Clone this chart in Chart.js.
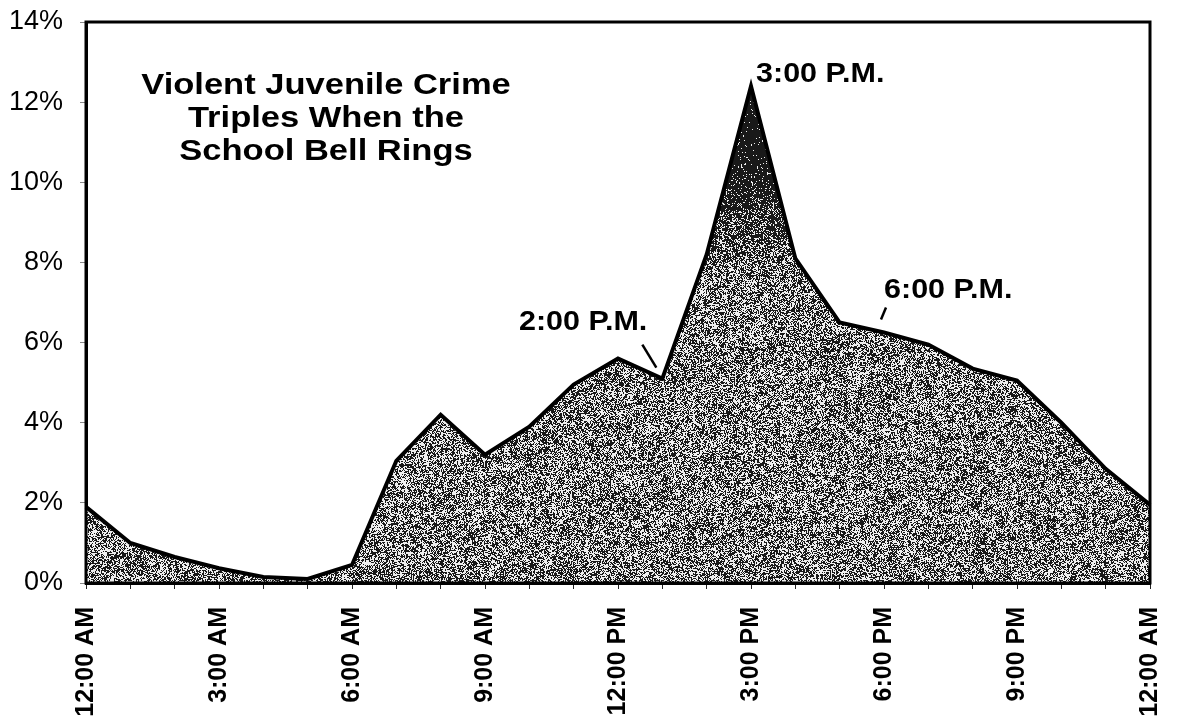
<!DOCTYPE html>
<html>
<head>
<meta charset="utf-8">
<script src="https://cdn.jsdelivr.net/npm/chart.js@4/dist/chart.umd.min.js"></script>
<style>
    html, body { margin: 0; padding: 0; background: #fff; }
    #crimeChart { display: block; }
</style>
</head>
<body>
<canvas id="crimeChart" width="1181" height="727"></canvas>
<script>
// Share of violent juvenile crime by hour of day
const hourLabels = [
    '12:00 AM', '1:00 AM', '2:00 AM', '3:00 AM', '4:00 AM', '5:00 AM',
    '6:00 AM', '7:00 AM', '8:00 AM', '9:00 AM', '10:00 AM', '11:00 AM',
    '12:00 PM', '1:00 PM', '2:00 PM', '3:00 PM', '4:00 PM', '5:00 PM',
    '6:00 PM', '7:00 PM', '8:00 PM', '9:00 PM', '10:00 PM', '11:00 PM',
    '12:00 AM'
];
const crimeShare = [
    1.9, 1.0, 0.65, 0.37, 0.15, 0.1,
    0.45, 3.05, 4.2, 3.2, 3.9, 4.95,
    5.6, 5.1, 8.2, 12.4, 8.1, 6.5,
    6.25, 5.95, 5.35, 5.05, 4.0, 2.85,
    1.95
];
const yTicks = [0, 2, 4, 6, 8, 10, 12, 14];
const titleLines = ['Violent Juvenile Crime', 'Triples When the', 'School Bell Rings'];
const calloutText = ['2:00 P.M.', '3:00 P.M.', '6:00 P.M.'];
const calloutHour = [13, 15, 18];

const FONT = '"Liberation Sans", Arial, Helvetica, sans-serif';

// cheap integer hash -> [0,1)
function hash(x, y) {
    let h = Math.imul(x, 374761393) + Math.imul(y, 668265263) | 0;
    h = Math.imul(h ^ (h >>> 13), 1274126177);
    h = h ^ (h >>> 16);
    return (h >>> 0) / 4294967296;
}

// grainy stipple fill, darker toward the top of the peak
let grainCache = null;
function grainPattern(chart) {
    if (grainCache) return grainCache;
    const w = chart.width, h = chart.height;
    const yScale = chart.scales.y;
    const off = document.createElement('canvas');
    off.width = w; off.height = h;
    const octx = off.getContext('2d');
    const img = octx.createImageData(w, h);
    for (let y = 0; y < h; y++) {
        const v = yScale.getValueForPixel(y);
        let t = Math.min(1, Math.max(0, (v - 7) / 4));
        t = t * t * (3 - 2 * t);
        const base = 0.52 + 0.44 * t;
        for (let x = 0; x < w; x++) {
            const blot = (hash(x >> 2, y >> 2) - 0.5) * 0.34 * (1 - t);
            const p = base + blot;
            const dark = hash(x, y + 7919) < p;
            const g = dark ? 25 : 238;
            const i = (y * w + x) * 4;
            img.data[i] = g; img.data[i + 1] = g; img.data[i + 2] = g; img.data[i + 3] = 255;
        }
    }
    octx.putImageData(img, 0, 0);
    grainCache = chart.ctx.createPattern(off, 'no-repeat');
    return grainCache;
}

function drawText(ctx, text, x, y, size, sx, align) {
    ctx.save();
    ctx.font = 'bold ' + size + 'px ' + FONT;
    ctx.textAlign = align;
    ctx.textBaseline = 'middle';
    ctx.translate(x, y);
    ctx.scale(sx, 1);
    ctx.fillText(text, 0, 0);
    ctx.restore();
}

// frame, title and callouts
const decorPlugin = {
    id: 'decor',
    afterDraw(chart) {
        const { ctx, chartArea: a } = chart;
        const xs = chart.scales.x, ys = chart.scales.y;
        ctx.save();
        ctx.strokeStyle = '#000';
        ctx.lineWidth = 3;
        ctx.strokeRect(a.left, a.top, a.right - a.left, a.bottom - a.top);

        ctx.fillStyle = '#000';
        titleLines.forEach((line, i) => {
            drawText(ctx, line, a.left + 240, a.top + 64 + i * 33, 29, 1.19, 'center');
        });

        const pt = i => ({ x: xs.getPixelForValue(calloutHour[i]), y: ys.getPixelForValue(crimeShare[calloutHour[i]]) });

        // 2:00 P.M.
        let p = pt(0);
        drawText(ctx, calloutText[0], p.x - 15, p.y - 56, 28, 1.09, 'right');
        ctx.lineWidth = 2.5;
        ctx.beginPath();
        ctx.moveTo(p.x - 20, p.y - 34);
        ctx.lineTo(p.x - 6, p.y - 11);
        ctx.stroke();

        // 3:00 P.M.
        p = pt(1);
        drawText(ctx, calloutText[1], p.x + 5, p.y - 12, 28, 1.09, 'left');

        // 6:00 P.M.
        p = pt(2);
        drawText(ctx, calloutText[2], p.x, p.y - 42, 28, 1.09, 'left');
        ctx.beginPath();
        ctx.moveTo(p.x + 2, p.y - 25);
        ctx.lineTo(p.x - 3, p.y - 13);
        ctx.stroke();
        ctx.restore();
    }
};

new Chart(document.getElementById('crimeChart'), {
    type: 'line',
    data: {
        labels: hourLabels,
        datasets: [{
            data: crimeShare,
            borderColor: '#000',
            borderWidth: 4,
            pointRadius: 0,
            tension: 0,
            fill: 'origin',
            backgroundColor: ctx => ctx.chart.chartArea ? grainPattern(ctx.chart) : '#888'
        }]
    },
    options: {
        responsive: false,
        animation: false,
        layout: { padding: { top: 22, right: 31, left: 0, bottom: 0 } },
        plugins: {
            legend: { display: false },
            tooltip: { enabled: false }
        },
        scales: {
            x: {
                type: 'category',
                offset: false,
                border: { display: true, color: '#000', width: 3 },
                grid: { drawOnChartArea: false, drawTicks: true, tickLength: 6, color: '#222' },
                ticks: {
                    autoSkip: false,
                    minRotation: 90,
                    maxRotation: 90,
                    padding: 18,
                    color: '#000',
                    font: { family: FONT, size: 25, weight: 'bold' },
                    callback: (v, i) => (i % 3 === 0 ? hourLabels[i] : '')
                },
                afterFit: s => {
                    s.height = 144;
                    s.paddingLeft = 0;
                    s.paddingRight = 0;
                }
            },
            y: {
                min: 0,
                max: 14,
                border: { display: true, color: '#000', width: 3 },
                grid: { drawOnChartArea: false, drawTicks: true, tickLength: 6, color: '#888' },
                afterBuildTicks: s => { s.ticks = yTicks.map(v => ({ value: v })); },
                ticks: {
                    padding: 17,
                    color: '#000',
                    font: { family: FONT, size: 27 },
                    callback: v => v + '%'
                },
                afterFit: s => {
                    s.width = 86;
                    s.paddingTop = 0;
                    s.paddingBottom = 0;
                }
            }
        }
    },
    plugins: [decorPlugin]
});
</script>
</body>
</html>
